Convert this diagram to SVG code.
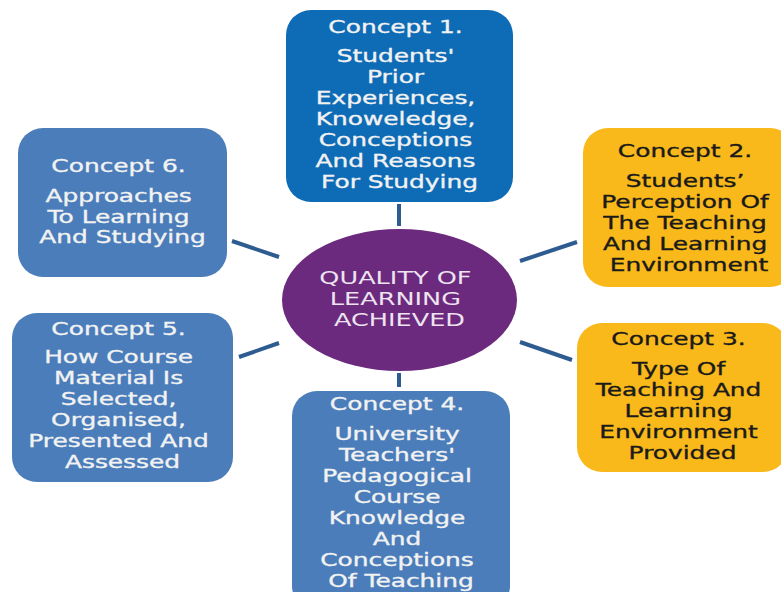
<svg xmlns="http://www.w3.org/2000/svg" width="781" height="592" viewBox="0 0 781 592">
  <style>
    .box { stroke: none; }
    .blue-dark { fill: #0E6BB5; }
    .blue { fill: #4A7DBA; }
    .gold { fill: #F9B91B; }
    .hub { fill: #6C2A7F; }
    .lbl { font-family: "DejaVu Sans", "Liberation Sans", sans-serif; font-size: 17.5px; text-anchor: middle; stroke-width: 0.35px; }
    .light { fill: #F2F2F2; stroke: #F2F2F2; }
    .dark { fill: #1A1A1A; stroke: #1A1A1A; }
    .hub-lbl { font-family: "DejaVu Sans", "Liberation Sans", sans-serif; font-size: 18px; text-anchor: middle; fill: #EDE4F0; }
    .link { stroke: #2E5C91; stroke-width: 4; stroke-linecap: butt; fill: none; }
  </style>

  <rect width="781" height="592" fill="#FFFFFF"/>

  <!-- connectors between the hub and each concept -->
  <g id="connectors">
    <line class="link" x1="399" y1="204" x2="399" y2="226"/>
    <line class="link" x1="520" y1="261" x2="577" y2="242"/>
    <line class="link" x1="520" y1="342" x2="572" y2="360"/>
    <line class="link" x1="399" y1="373" x2="399" y2="387"/>
    <line class="link" x1="279" y1="343" x2="239" y2="357"/>
    <line class="link" x1="279" y1="257" x2="232" y2="241"/>
  </g>

  <g id="hub">
    <ellipse class="hub" cx="399.5" cy="300" rx="117.5" ry="71"/>
    <g transform="translate(399.5,0) scale(1.42,1)">
      <text class="hub-lbl">
        <tspan x="0" y="284">QUALITY OF</tspan>
        <tspan x="0" y="305">LEARNING</tspan>
        <tspan x="0" y="326">ACHIEVED</tspan>
      </text>
    </g>
  </g>

  <g id="concept1">
    <rect class="box blue-dark" x="286" y="10" width="227" height="192" rx="25"/>
    <g transform="translate(399.5,0) scale(1.42,1)">
      <text class="lbl light">
        <tspan x="0" y="33">Concept 1.</tspan>
        <tspan x="0" y="62.5">Students'</tspan>
        <tspan x="0" y="83.5">Prior</tspan>
        <tspan x="0" y="104.5">Experiences,</tspan>
        <tspan x="0" y="125.5">Knoweledge,</tspan>
        <tspan x="0" y="146.5">Conceptions</tspan>
        <tspan x="0" y="167.5">And Reasons</tspan>
        <tspan x="0" y="188.5">For Studying</tspan>
      </text>
    </g>
  </g>

  <g id="concept2">
    <rect class="box gold" x="583" y="128" width="212" height="159" rx="25"/>
    <g transform="translate(689,0) scale(1.42,1)">
      <text class="lbl dark">
        <tspan x="0" y="157">Concept 2.</tspan>
        <tspan x="0" y="187">Students’</tspan>
        <tspan x="0" y="208">Perception Of</tspan>
        <tspan x="0" y="229">The Teaching</tspan>
        <tspan x="0" y="250">And Learning</tspan>
        <tspan x="0" y="271">Environment</tspan>
      </text>
    </g>
  </g>

  <g id="concept3">
    <rect class="box gold" x="577" y="323" width="211" height="149" rx="25"/>
    <g transform="translate(682.5,0) scale(1.42,1)">
      <text class="lbl dark">
        <tspan x="0" y="345">Concept 3.</tspan>
        <tspan x="0" y="375">Type Of</tspan>
        <tspan x="0" y="396">Teaching And</tspan>
        <tspan x="0" y="417">Learning</tspan>
        <tspan x="0" y="438">Environment</tspan>
        <tspan x="0" y="459">Provided</tspan>
      </text>
    </g>
  </g>

  <g id="concept4">
    <rect class="box blue" x="292" y="391" width="218" height="220" rx="25"/>
    <g transform="translate(401,0) scale(1.42,1)">
      <text class="lbl light">
        <tspan x="0" y="410">Concept 4.</tspan>
        <tspan x="0" y="440">University</tspan>
        <tspan x="0" y="461">Teachers'</tspan>
        <tspan x="0" y="482">Pedagogical</tspan>
        <tspan x="0" y="503">Course</tspan>
        <tspan x="0" y="524">Knowledge</tspan>
        <tspan x="0" y="545">And</tspan>
        <tspan x="0" y="566">Conceptions</tspan>
        <tspan x="0" y="587">Of Teaching</tspan>
      </text>
    </g>
  </g>

  <g id="concept5">
    <rect class="box blue" x="12" y="313" width="221" height="169" rx="25"/>
    <g transform="translate(122.5,0) scale(1.42,1)">
      <text class="lbl light">
        <tspan x="0" y="335">Concept 5.</tspan>
        <tspan x="0" y="363">How Course</tspan>
        <tspan x="0" y="384">Material Is</tspan>
        <tspan x="0" y="405">Selected,</tspan>
        <tspan x="0" y="426">Organised,</tspan>
        <tspan x="0" y="447">Presented And</tspan>
        <tspan x="0" y="468">Assessed</tspan>
      </text>
    </g>
  </g>

  <g id="concept6">
    <rect class="box blue" x="18" y="128" width="209" height="149" rx="25"/>
    <g transform="translate(122.5,0) scale(1.42,1)">
      <text class="lbl light">
        <tspan x="0" y="172">Concept 6.</tspan>
        <tspan x="0" y="202">Approaches</tspan>
        <tspan x="0" y="223">To Learning</tspan>
        <tspan x="0" y="243">And Studying</tspan>
      </text>
    </g>
  </g>
</svg>
